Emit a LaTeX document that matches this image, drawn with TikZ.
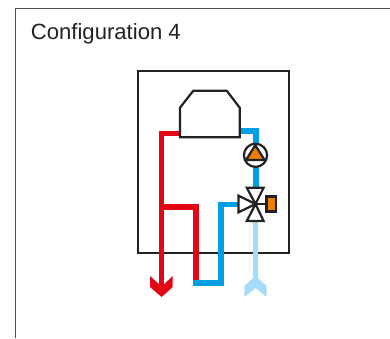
\documentclass[tikz,border=0pt]{standalone}
\usepackage{fontspec}
\setmainfont{Liberation Sans}
\definecolor{pipered}{HTML}{E30613}
\definecolor{pipeblue}{HTML}{009FE3}
\definecolor{pipelight}{HTML}{A5DCF8}
\definecolor{partorange}{HTML}{EF7D00}
\definecolor{ink}{HTML}{222222}
\tikzset{
  frameline/.style={draw=ink!80!white,line width=1.2pt},
  boxline/.style={draw=ink,line width=2pt,line join=miter},
  partline/.style={draw=ink,line width=2.2pt,line join=miter},
  piperun/.style={line width=5.6pt,line join=miter},
  valvetri/.style={draw=ink,line width=2.2pt,fill=white,line join=miter},
  orangepart/.style={draw=ink,line width=2.2pt,fill=partorange,line join=miter}
}
\begin{document}
\begin{tikzpicture}[x=1pt,y=-1pt]
\useasboundingbox (0,0) rectangle (390,338);
\draw[frameline] (390,8.7) -- (15.2,8.7) -- (15.2,338);
\node[anchor=base west,inner sep=0pt,font=\fontsize{22.1pt}{24pt}\selectfont,text=ink] (title) at (30.7,39.3) {Configuration 4};
\draw[boxline] (137.5,70.7) rectangle (288.5,252.5);
% named points
\coordinate (vc) at (255.5,204);
\coordinate (pc) at (255.5,155.3);
% pipes
\draw[piperun,pipelight] (vc) -- (255.5,282);
\fill[pipelight] (255.5,276) -- (266.7,286) -- (266.7,297) -- (255.5,288) -- (244.3,297) -- (244.3,286) -- cycle;
\draw[piperun,pipeblue] (240,131) -- (256,131) -- (256,200);
\draw[piperun,pipered] (180,133.5) -- (161.6,133.5) -- (161.6,285);
\fill[pipered] (150,276) -- (158.9,284) -- (164.3,284) -- (172.7,276) -- (172.7,287) -- (161.6,297) -- (150,287) -- cycle;
\draw[piperun,pipered] (161.6,207) -- (195.7,207) -- (195.7,281);
\draw[piperun,pipeblue] (192.9,282.7) -- (221,282.7) -- (221,204.3) -- (240,204.3);
% burner
\draw[partline,fill=white] (180,137.3) -- (180,107.7) -- (193.3,90.7) -- (226.7,90.7) -- (239.7,107.7) -- (239.7,137.3) -- cycle;
% pump
\draw[partline,fill=white] (pc) circle[radius=11.6pt];
\draw[orangepart] (255.3,145.2) -- (264.6,160) -- (246,160) -- cycle;
% valve
\draw[partline] (vc) -- (266,204);
\draw[valvetri] (vc) -- (246.8,187.8) -- (263.6,187.8) -- cycle;
\draw[valvetri] (vc) -- (246.8,221) -- (263.6,221) -- cycle;
\draw[valvetri] (vc) -- (238.5,195.7) -- (238.5,212.3) -- cycle;
\draw[orangepart] (266.5,196.5) rectangle (276.2,211.5);
\end{tikzpicture}
\end{document}
